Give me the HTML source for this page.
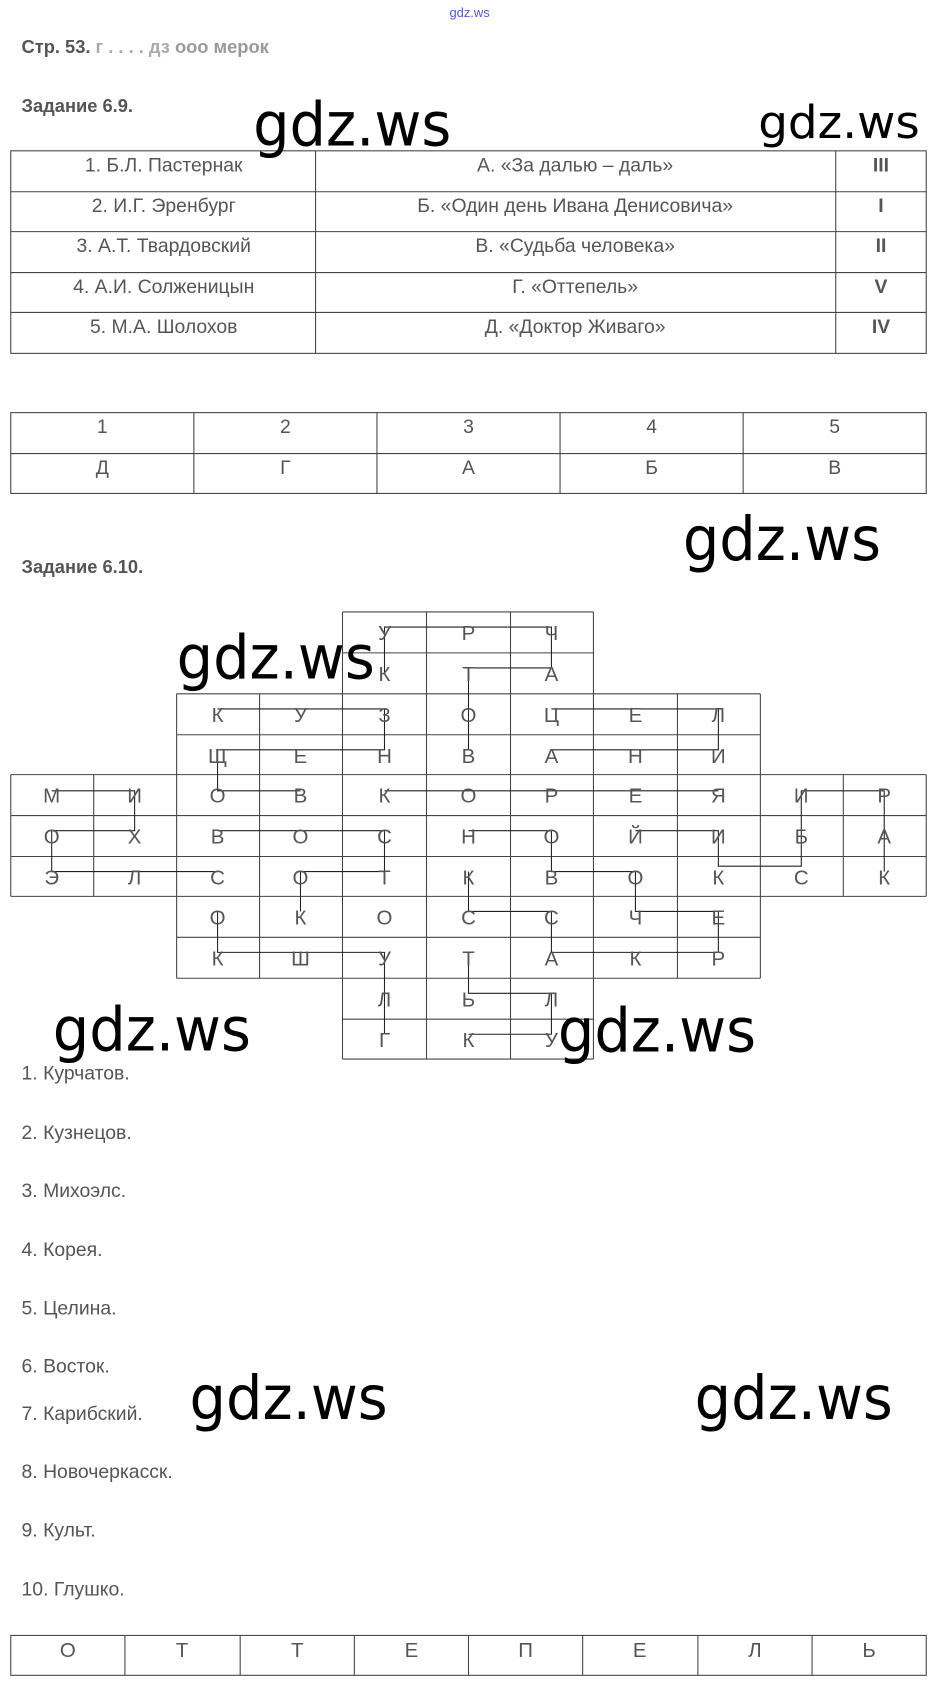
<!DOCTYPE html>
<html><head><meta charset="utf-8"><style>
html,body{margin:0;padding:0;background:#fff;}
svg{display:block;}
.t{font-family:"Liberation Sans",sans-serif;fill:#555;}
.w{font-family:"DejaVu Sans Condensed","Liberation Sans",sans-serif;fill:#000;}
</style></head><body>
<svg width="937" height="1685" viewBox="0 0 870 1564" preserveAspectRatio="none" xmlns="http://www.w3.org/2000/svg">
<text x="436" y="16" font-size="12" text-anchor="middle" fill="#5555dd" font-family="Liberation Sans,sans-serif">gdz.ws</text>
<text x="20" y="49" font-size="17" font-weight="bold" class="t" fill="#444">Стр. 53. <tspan fill="#aaa">г . . .   . дз</tspan> <tspan fill="#999">ооо мерок</tspan></text>
<text x="20" y="104" font-size="17" font-weight="bold" class="t">Задание 6.9.</text>
<g stroke="#444" stroke-width="1" fill="none">
<rect x="10" y="140" width="850" height="188"/>
<line x1="10" y1="178" x2="860" y2="178"/><line x1="10" y1="215" x2="860" y2="215"/><line x1="10" y1="253" x2="860" y2="253"/><line x1="10" y1="290" x2="860" y2="290"/>
<line x1="293" y1="140" x2="293" y2="328"/><line x1="776" y1="140" x2="776" y2="328"/>
<rect x="10" y="383" width="850" height="75"/><line x1="10" y1="421" x2="860" y2="421"/>
<line x1="180" y1="383" x2="180" y2="458"/><line x1="350" y1="383" x2="350" y2="458"/><line x1="520" y1="383" x2="520" y2="458"/><line x1="690" y1="383" x2="690" y2="458"/>
</g>
<g class="t" font-size="18" text-anchor="middle">
<text x="152" y="159">1. Б.Л. Пастернак</text><text x="534" y="159">А. «За далью – даль»</text><text x="818" y="159" font-weight="bold">III</text>
<text x="152" y="197">2. И.Г. Эренбург</text><text x="534" y="197">Б. «Один день Ивана Денисовича»</text><text x="818" y="197" font-weight="bold">I</text>
<text x="152" y="234">3. А.Т. Твардовский</text><text x="534" y="234">В. «Судьба человека»</text><text x="818" y="234" font-weight="bold">II</text>
<text x="152" y="272">4. А.И. Солженицын</text><text x="534" y="272">Г. «Оттепель»</text><text x="818" y="272" font-weight="bold">V</text>
<text x="152" y="309">5. М.А. Шолохов</text><text x="534" y="309">Д. «Доктор Живаго»</text><text x="818" y="309" font-weight="bold">IV</text>
<text x="95" y="402">1</text><text x="265" y="402">2</text><text x="435" y="402">3</text><text x="605" y="402">4</text><text x="775" y="402">5</text>
<text x="95" y="440">Д</text><text x="265" y="440">Г</text><text x="435" y="440">А</text><text x="605" y="440">Б</text><text x="775" y="440">В</text>
</g>
<text x="20" y="532" font-size="17" font-weight="bold" class="t">Задание 6.10.</text>
<g stroke="#444" stroke-width="1" fill="none">
<line x1="318" y1="568" x2="318" y2="983"/><line x1="396" y1="568" x2="396" y2="983"/><line x1="474" y1="568" x2="474" y2="983"/><line x1="551" y1="568" x2="551" y2="983"/>
<line x1="164" y1="644" x2="164" y2="908"/><line x1="241" y1="644" x2="241" y2="908"/><line x1="629" y1="644" x2="629" y2="908"/><line x1="706" y1="644" x2="706" y2="908"/>
<line x1="10" y1="719" x2="10" y2="832"/><line x1="87" y1="719" x2="87" y2="832"/><line x1="783" y1="719" x2="783" y2="832"/><line x1="860" y1="719" x2="860" y2="832"/>
<line x1="318" y1="568" x2="551" y2="568"/><line x1="318" y1="606" x2="551" y2="606"/><line x1="164" y1="644" x2="706" y2="644"/><line x1="164" y1="682" x2="706" y2="682"/>
<line x1="10" y1="719" x2="860" y2="719"/><line x1="10" y1="757" x2="860" y2="757"/><line x1="10" y1="795" x2="860" y2="795"/><line x1="10" y1="832" x2="860" y2="832"/>
<line x1="164" y1="870" x2="706" y2="870"/><line x1="164" y1="908" x2="706" y2="908"/><line x1="318" y1="946" x2="551" y2="946"/><line x1="318" y1="983" x2="551" y2="983"/>
</g>
<g stroke="#222" stroke-width="1" fill="none">
<path d="M357 625 V582 H512 V620 H435 V658 V696"/>
<path d="M202 658 H357 V696 H202 V734 H279"/>
<path d="M48 734 H125 V771 H48 V809 H202"/>
<path d="M357 734 H667"/>
<path d="M512 658 H667 V696 H512"/>
<path d="M202 771 H357 V809 H279 V846"/>
<path d="M821 809 V734 H744 V804 H667 V771 H590"/>
<path d="M435 771 H512 V809 H590 V846 H667 V884 H512 V846 H435 V809"/>
<path d="M435 960 H512 V922 H435 V884"/>
<path d="M357 960 V884 H202 V846"/>
</g>
<g class="t" font-size="19" text-anchor="middle">
<text x="357" y="594">У</text><text x="435" y="594">Р</text><text x="512" y="594">Ч</text>
<text x="357" y="632">К</text><text x="435" y="632">Т</text><text x="512" y="632">А</text>
<text x="202" y="670">К</text><text x="279" y="670">У</text><text x="357" y="670">З</text><text x="435" y="670">О</text><text x="512" y="670">Ц</text><text x="590" y="670">Е</text><text x="667" y="670">Л</text>
<text x="202" y="708">Щ</text><text x="279" y="708">Е</text><text x="357" y="708">Н</text><text x="435" y="708">В</text><text x="512" y="708">А</text><text x="590" y="708">Н</text><text x="667" y="708">И</text>
<text x="48" y="745">М</text><text x="125" y="745">И</text><text x="202" y="745">О</text><text x="279" y="745">В</text><text x="357" y="745">К</text><text x="435" y="745">О</text><text x="512" y="745">Р</text><text x="590" y="745">Е</text><text x="667" y="745">Я</text><text x="744" y="745">И</text><text x="821" y="745">Р</text>
<text x="48" y="783">О</text><text x="125" y="783">Х</text><text x="202" y="783">В</text><text x="279" y="783">О</text><text x="357" y="783">С</text><text x="435" y="783">Н</text><text x="512" y="783">О</text><text x="590" y="783">Й</text><text x="667" y="783">И</text><text x="744" y="783">Б</text><text x="821" y="783">А</text>
<text x="48" y="821">Э</text><text x="125" y="821">Л</text><text x="202" y="821">С</text><text x="279" y="821">О</text><text x="357" y="821">Т</text><text x="435" y="821">К</text><text x="512" y="821">В</text><text x="590" y="821">О</text><text x="667" y="821">К</text><text x="744" y="821">С</text><text x="821" y="821">К</text>
<text x="202" y="858">О</text><text x="279" y="858">К</text><text x="357" y="858">О</text><text x="435" y="858">С</text><text x="512" y="858">С</text><text x="590" y="858">Ч</text><text x="667" y="858">Е</text>
<text x="202" y="896">К</text><text x="279" y="896">Ш</text><text x="357" y="896">У</text><text x="435" y="896">Т</text><text x="512" y="896">А</text><text x="590" y="896">К</text><text x="667" y="896">Р</text>
<text x="357" y="934">Л</text><text x="435" y="934">Ь</text><text x="512" y="934">Л</text>
<text x="357" y="972">Г</text><text x="435" y="972">К</text><text x="512" y="972">У</text>
</g>
<g class="t" font-size="18">
<text x="20" y="1002">1. Курчатов.</text>
<text x="20" y="1057">2. Кузнецов.</text>
<text x="20" y="1111">3. Михоэлс.</text>
<text x="20" y="1166">4. Корея.</text>
<text x="20" y="1220">5. Целина.</text>
<text x="20" y="1274">6. Восток.</text>
<text x="20" y="1318">7. Карибский.</text>
<text x="20" y="1372">8. Новочеркасск.</text>
<text x="20" y="1426">9. Культ.</text>
<text x="20" y="1481">10. Глушко.</text>
</g>
<g stroke="#444" stroke-width="1" fill="none">
<rect x="10" y="1518" width="850" height="37"/>
<line x1="116" y1="1518" x2="116" y2="1555"/><line x1="223" y1="1518" x2="223" y2="1555"/><line x1="329" y1="1518" x2="329" y2="1555"/><line x1="435" y1="1518" x2="435" y2="1555"/><line x1="541" y1="1518" x2="541" y2="1555"/><line x1="648" y1="1518" x2="648" y2="1555"/><line x1="754" y1="1518" x2="754" y2="1555"/>
</g>
<g class="t" font-size="19" text-anchor="middle">
<text x="63" y="1538">О</text><text x="169" y="1538">Т</text><text x="276" y="1538">Т</text><text x="382" y="1538">Е</text><text x="488" y="1538">П</text><text x="594" y="1538">Е</text><text x="701" y="1538">Л</text><text x="807" y="1538">Ь</text>
</g>
<g class="w" font-size="56">
<text x="235" y="135" textLength="184" lengthAdjust="spacingAndGlyphs">gdz.ws</text>
<text x="704" y="128" font-size="42" textLength="150" lengthAdjust="spacingAndGlyphs">gdz.ws</text>
<text x="634" y="520" textLength="184" lengthAdjust="spacingAndGlyphs">gdz.ws</text>
<text x="164" y="630" textLength="184" lengthAdjust="spacingAndGlyphs">gdz.ws</text>
<text x="49" y="975" textLength="184" lengthAdjust="spacingAndGlyphs">gdz.ws</text>
<text x="518" y="976" textLength="184" lengthAdjust="spacingAndGlyphs">gdz.ws</text>
<text x="176" y="1317" textLength="184" lengthAdjust="spacingAndGlyphs">gdz.ws</text>
<text x="645" y="1317" textLength="184" lengthAdjust="spacingAndGlyphs">gdz.ws</text>
</g>
</svg>
</body></html>
